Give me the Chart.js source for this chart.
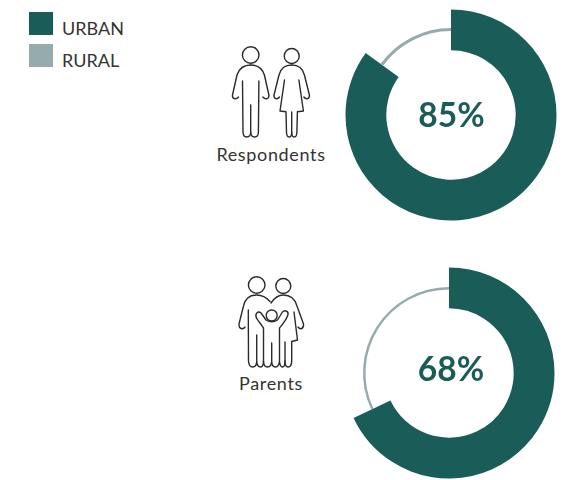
<!DOCTYPE html>
<html>
<head>
<meta charset="utf-8">
<script src="https://cdn.jsdelivr.net/npm/chart.js@4"></script>
<style>
  html, body { margin: 0; padding: 0; background: #fff; }
  body { position: relative; width: 569px; height: 480px; overflow: hidden; font-family: Lato, sans-serif; color: #333; }
  .swatch { position: absolute; left: 29px; width: 24px; height: 23px; }
  .label { position: absolute; line-height: 20px; white-space: nowrap; }
  .caption { position: absolute; left: 201px; width: 140px; text-align: center; font-size: 18px; letter-spacing: 0.65px; line-height: 20px; }
  canvas { position: absolute; }
  svg { position: absolute; left: 0; top: 0; }
  svg * { fill: none; stroke: #2a2a2a; stroke-width: 1.4; stroke-linecap: round; stroke-linejoin: round; }
</style>
</head>
<body>
<div id="legend"></div>

<svg width="569" height="480">
  <!-- respondents -->
  <circle cx="250.7" cy="55" r="8.3"/>
  <circle cx="291.7" cy="56" r="7.5"/>
  <path d="M250.7 65C243 65 239 69 237 75L232.5 95C232 99 236 100 238.5 97M242.5 81L243 132Q243 137 246.7 137Q250.7 137 250.7 132L250.7 105"/>
  <path d="M250.7 65C258.4 65 262.4 69 264.4 75L268.9 95C269.4 99 265.4 100 262.9 97M258.9 81L258.4 132Q258.4 137 254.7 137Q250.7 137 250.7 132"/>
  <path d="M291.7 65C284 65 280.5 69 279 75L274 95C273.5 99 277.5 100 279.5 97M284.5 80L280 111L286 111.7L286.5 132Q286.5 137 289.2 137Q291.7 137 291.7 132L291.7 112"/>
  <path d="M291.7 65C299.4 65 302.9 69 304.4 75L309.4 95C309.9 99 305.9 100 303.9 97M298.9 80L303.4 111L297.4 111.7L296.9 132Q296.9 137 294.2 137Q291.7 137 291.7 132"/>

  <!-- parents -->
  <circle cx="256.7" cy="285" r="8.3"/>
  <circle cx="283.3" cy="286" r="7.5"/>
  <circle cx="271.7" cy="315.5" r="5.5"/>
  <path d="M270 301.5C266 297 261 295 256.7 295C249 295 245 299 243.5 306L239 324C238.5 329 243 330 245 327M248.3 310L248.5 361Q249 367 252.5 367Q256.7 367 256.7 361L256.7 335M256.7 361Q257 367 260.5 367Q263.5 367 263.5 361L263.5 328"/>
  <path d="M271 303C275 297 279 295 283.3 295C291 295 295 299 297 306L303.5 324C304 329 300 330 298 327M294 312L297.5 340L291.7 341.5L291.7 361Q291.5 367 288 367Q285 367 285 361L285 342"/>
  <path d="M263.5 328C261 324 258 321 256.5 318C254.5 314 258 310 261 313L266 320Q271.7 323.5 277.5 320L282.5 312C285.5 309 289.5 312 287.5 316C285.5 321 282 325 279.5 328L279.5 361Q279 367 275.5 367Q271.7 367 271.7 361L271.7 343M271.7 361Q271.5 367 267.5 367Q263.5 367 263.5 361M279.5 361Q280 367 282.5 367Q285 367 285 361"/>
</svg>

<div class="caption" style="top:144px">Respondents</div>
<div class="caption" style="top:373px">Parents</div>

<canvas id="respondentsChart" width="212" height="212" style="left:345px;top:9px"></canvas>
<canvas id="parentsChart" width="212" height="212" style="left:343px;top:267px"></canvas>

<script>
const categories = ['URBAN', 'RURAL'];
const colors = ['#1a5c58', '#96abab'];
const respondentsValues = [85, 15];
const parentsValues = [68, 32];

// Legend
const legend = document.getElementById('legend');
categories.forEach((name, i) => {
    const top = 12 + i * 32;
    legend.innerHTML += `<div class="swatch" style="top:${top}px;background:${colors[i]}"></div>` +
        `<div class="label" style="left:62px;top:${top + 6}px;font-size:18px">${name}</div>`;
});

function makeDonut(id, values, ring, textOffset) {
    // Rural slice is only a thin line inside the urban ring
    const thinRural = {
        id: 'thinRural',
        afterDatasetsUpdate: (chart) => {
            const arc = chart.getDatasetMeta(0).data[1];
            arc.outerRadius = ring[1];
            arc.innerRadius = ring[0];
        }
    };

    // Percentage in the middle
    const centerText = {
        id: 'centerText',
        afterDraw: (chart) => {
            const ctx = chart.ctx;
            const arc = chart.getDatasetMeta(0).data[0];
            ctx.save();
            ctx.font = "700 33.5px Lato";
            ctx.fillStyle = colors[0];
            ctx.textAlign = 'center';
            ctx.textBaseline = 'middle';
            ctx.fillText(values[0] + '%', arc.x + textOffset[0], arc.y + textOffset[1]);
            ctx.restore();
        }
    };

    return new Chart(document.getElementById(id), {
        type: 'doughnut',
        data: {
            labels: categories,
            datasets: [{ data: values, backgroundColor: colors, borderWidth: 0 }]
        },
        options: {
            responsive: false,
            animation: false,
            radius: 105.5,
            cutout: 65,
            plugins: {
                legend: { display: false },
                tooltip: { enabled: false }
            }
        },
        plugins: [thinRural, centerText]
    });
}

makeDonut('respondentsChart', respondentsValues, [84, 87], [0.5, 1.5]);
makeDonut('parentsChart', parentsValues, [83.5, 86], [2, -3]);
</script>
</body>
</html>
